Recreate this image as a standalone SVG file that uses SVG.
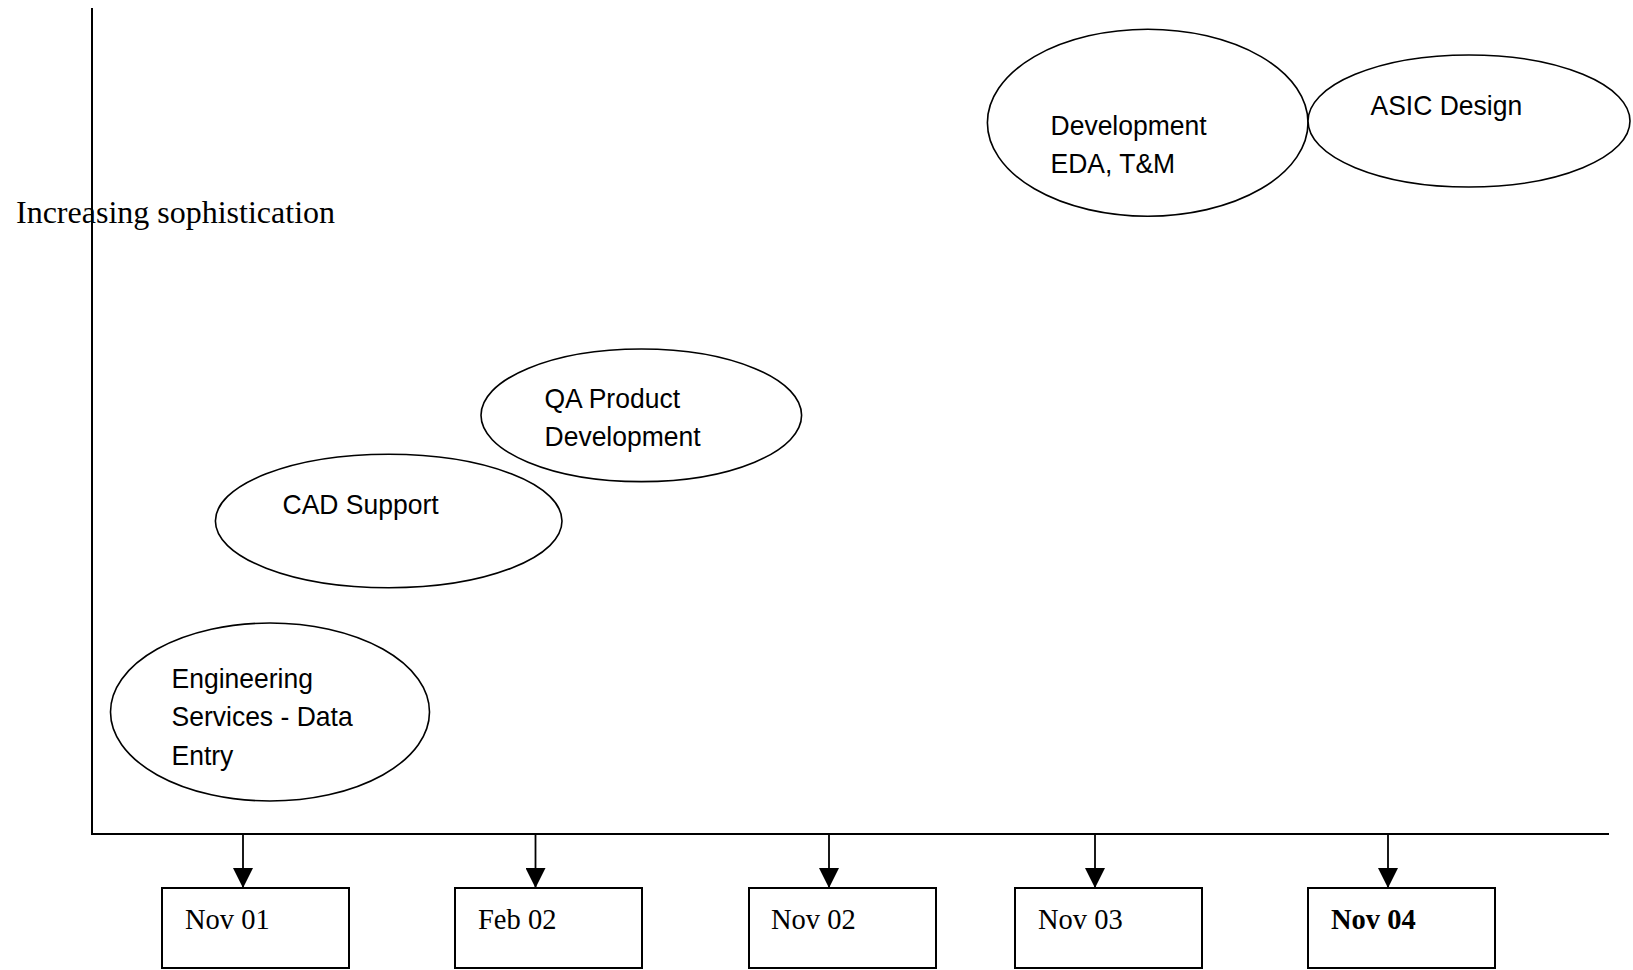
<svg xmlns="http://www.w3.org/2000/svg" width="1633" height="970" viewBox="0 0 1633 970">
<style>
.bg{fill:#fff}
.ell{fill:#fff;stroke:#000;stroke-width:1.6}
.box{fill:#fff;stroke:#000;stroke-width:2}
.axis{fill:none;stroke:#000;stroke-width:2}
.conn{fill:none;stroke:#000;stroke-width:1.8}
.lbl{font-family:"Liberation Sans",Arial,sans-serif;font-size:28.5px;fill:#000}
.date{font-family:"Liberation Serif","Times New Roman",serif;font-size:28.5px;fill:#000}
.title{font-family:"Liberation Serif","Times New Roman",serif;font-size:32px;fill:#000}
</style>
<defs>
<marker id="arr" markerUnits="userSpaceOnUse" markerWidth="20" markerHeight="20" refX="20" refY="10" orient="auto">
<path d="M0,0 L20,10 L0,20 Z" fill="#000"/>
</marker>
</defs>
<rect class="bg" x="0" y="0" width="1633" height="970"/>
<text class="title" x="16" y="223">Increasing sophistication</text>
<g id="axes">
<line class="axis" x1="92" y1="8" x2="92" y2="834"/>
<line class="axis" x1="91" y1="834" x2="1609" y2="834"/>
</g>
<g id="connectors">
<line class="conn" x1="243" y1="834" x2="243" y2="888" marker-end="url(#arr)"/>
<line class="conn" x1="535.5" y1="834" x2="535.5" y2="888" marker-end="url(#arr)"/>
<line class="conn" x1="829" y1="834" x2="829" y2="888" marker-end="url(#arr)"/>
<line class="conn" x1="1095" y1="834" x2="1095" y2="888" marker-end="url(#arr)"/>
<line class="conn" x1="1388" y1="834" x2="1388" y2="888" marker-end="url(#arr)"/>
</g>
<g id="node-engineering">
<ellipse class="ell" cx="270" cy="712" rx="159.5" ry="89"/>
<text class="lbl" transform="translate(171.5,688) scale(0.93 1)"><tspan x="0" y="0">Engineering</tspan><tspan x="0" y="38.3">Services - Data</tspan><tspan x="0" y="76.6">Entry</tspan></text>
</g>
<g id="node-cad">
<ellipse class="ell" cx="388.7" cy="521" rx="173.3" ry="66.7"/>
<text class="lbl" transform="translate(282.5,513.5) scale(0.93 1)">CAD Support</text>
</g>
<g id="node-qa">
<ellipse class="ell" cx="641.3" cy="415.3" rx="160.3" ry="66.3"/>
<text class="lbl" transform="translate(544.5,407.7) scale(0.93 1)"><tspan x="0" y="0">QA Product</tspan><tspan x="0" y="38.3">Development</tspan></text>
</g>
<g id="node-eda">
<ellipse class="ell" cx="1147.7" cy="122.7" rx="160.3" ry="93.5"/>
<text class="lbl" transform="translate(1050.5,135) scale(0.93 1)"><tspan x="0" y="0">Development</tspan><tspan x="0" y="38.3">EDA, T&amp;M</tspan></text>
</g>
<g id="node-asic">
<ellipse class="ell" cx="1469" cy="121" rx="161" ry="66"/>
<text class="lbl" transform="translate(1370.5,115) scale(0.93 1)">ASIC Design</text>
</g>
<g id="node-nov01">
<rect class="box" x="162" y="888" width="187" height="80"/>
<text class="date" x="185" y="929">Nov 01</text>
</g>
<g id="node-feb02">
<rect class="box" x="455" y="888" width="187" height="80"/>
<text class="date" x="478" y="929">Feb 02</text>
</g>
<g id="node-nov02">
<rect class="box" x="749" y="888" width="187" height="80"/>
<text class="date" x="771" y="929">Nov 02</text>
</g>
<g id="node-nov03">
<rect class="box" x="1015" y="888" width="187" height="80"/>
<text class="date" x="1038" y="929">Nov 03</text>
</g>
<g id="node-nov04">
<rect class="box" x="1308" y="888" width="187" height="80"/>
<text class="date" x="1331" y="929" font-weight="bold">Nov 04</text>
</g>
</svg>
